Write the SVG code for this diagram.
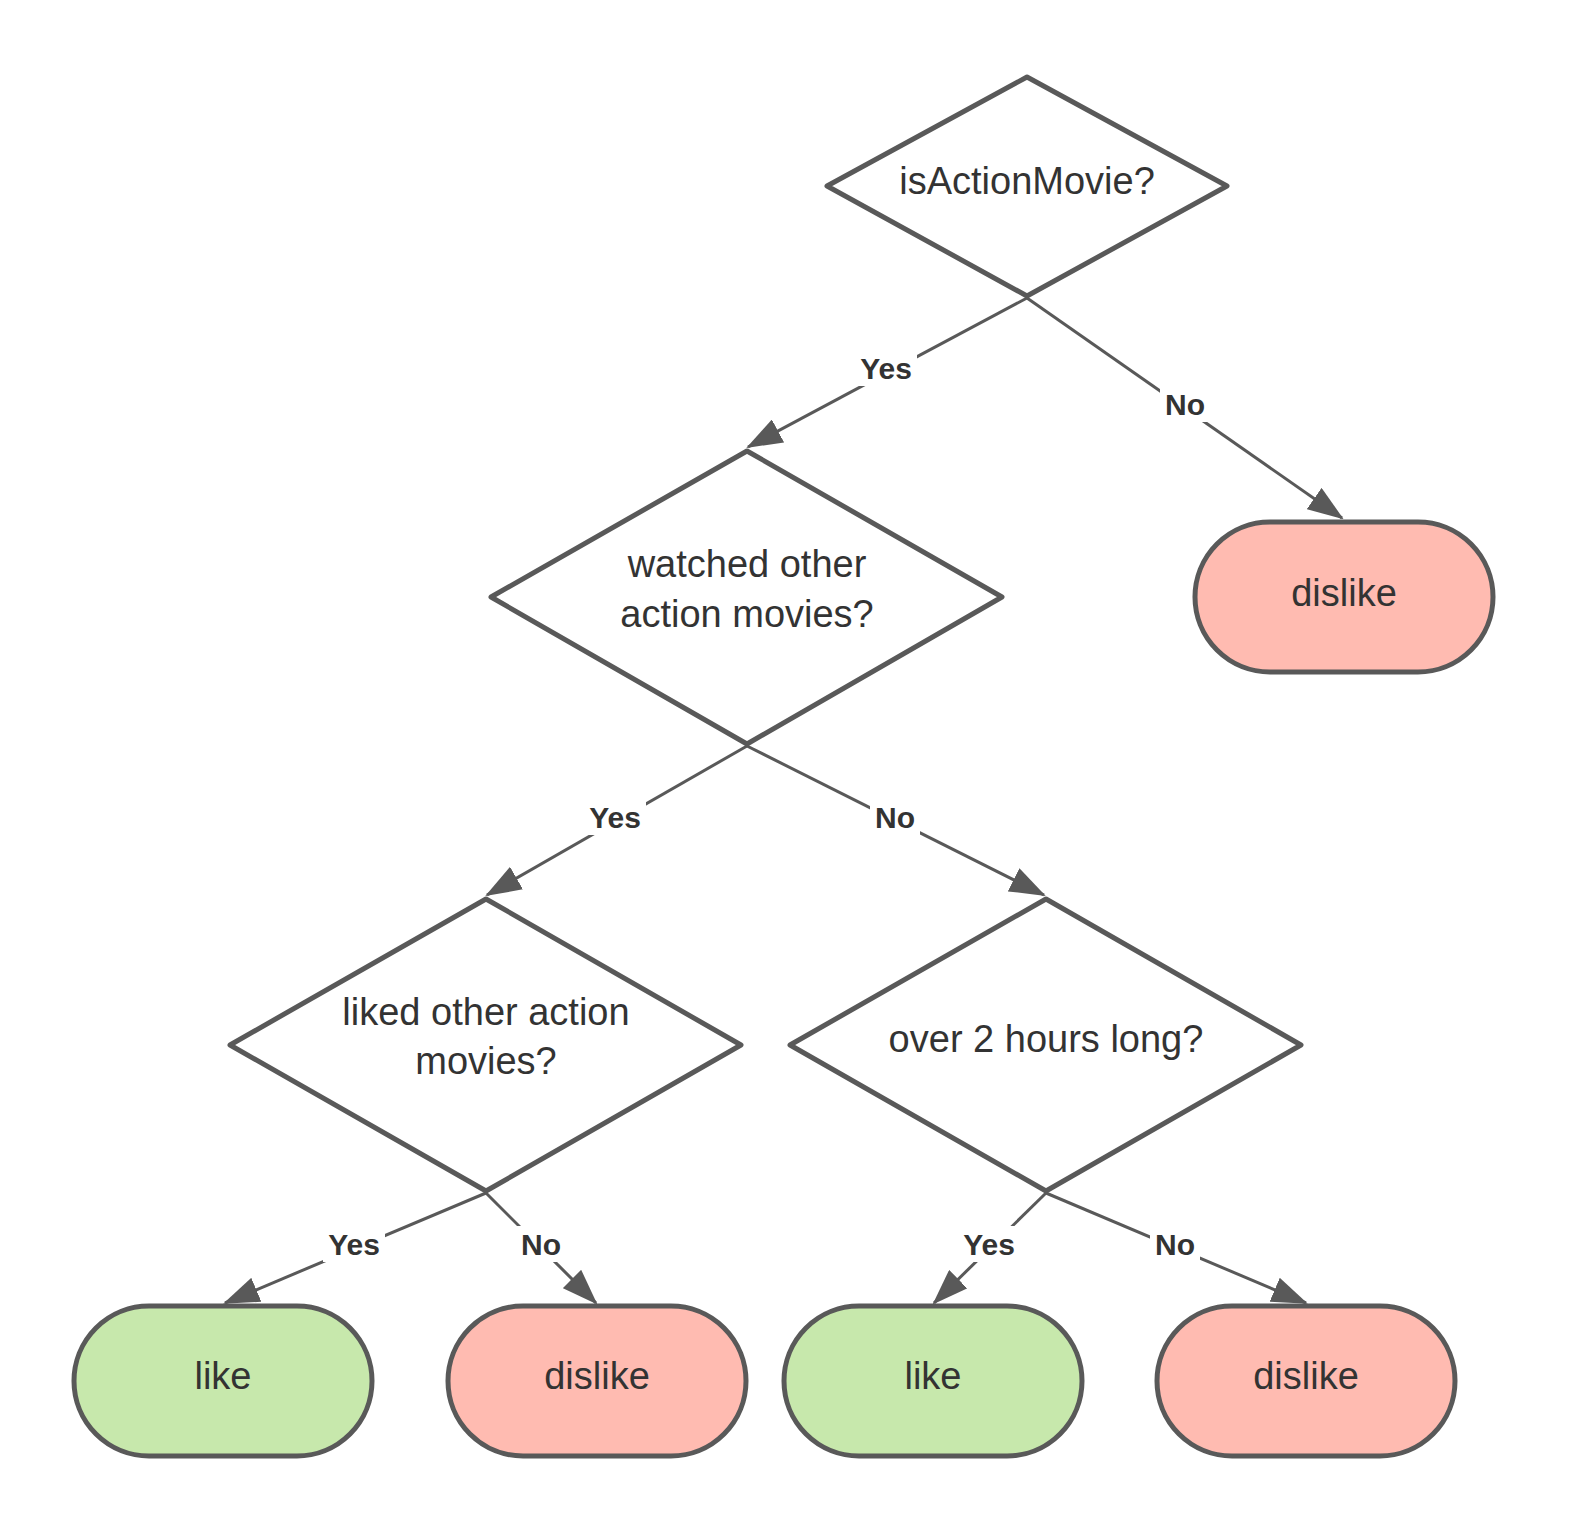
<svg xmlns="http://www.w3.org/2000/svg" width="1575" height="1538" viewBox="0 0 1575 1538">
<style>
.d{fill:#fff;stroke:#595959;stroke-width:5;stroke-linejoin:round}
.g{fill:#c7e8ac;stroke:#595959;stroke-width:5}
.r{fill:#ffbbb1;stroke:#595959;stroke-width:5}
.t{font-family:"Liberation Sans",Arial,sans-serif;font-size:38px;fill:#333;text-anchor:middle}
.l{font-family:"Liberation Sans",Arial,sans-serif;font-size:30px;font-weight:bold;fill:#333;text-anchor:middle}
.c{stroke:#595959;stroke-width:3;fill:none;marker-end:url(#a)}
.bg{fill:#fff}
</style>
<defs><marker id="a" markerWidth="12" markerHeight="10" refX="11" refY="5" orient="auto" markerUnits="userSpaceOnUse" viewBox="0 0 12 10"><path d="M0,0L12,5L0,10z" fill="#595959"/></marker>
<marker id="m" markerWidth="36" markerHeight="26" refX="34" refY="13" orient="auto" markerUnits="userSpaceOnUse" viewBox="0 0 36 26"><path d="M0,0L36,13L0,26z" fill="#595959"/></marker></defs>
<rect width="1575" height="1538" fill="#fff"/>
<g id="connectors">
<path d="M1027,298L748,447" stroke="#595959" stroke-width="3" marker-end="url(#m)"/>
<path d="M1027,298L1342,518" stroke="#595959" stroke-width="3" marker-end="url(#m)"/>
<path d="M747,746L487,895" stroke="#595959" stroke-width="3" marker-end="url(#m)"/>
<path d="M747,746L1044,895" stroke="#595959" stroke-width="3" marker-end="url(#m)"/>
<path d="M486,1193L225,1303" stroke="#595959" stroke-width="3" marker-end="url(#m)"/>
<path d="M486,1193L596,1303" stroke="#595959" stroke-width="3" marker-end="url(#m)"/>
<path d="M1046,1193L934,1303" stroke="#595959" stroke-width="3" marker-end="url(#m)"/>
<path d="M1046,1193L1306,1303" stroke="#595959" stroke-width="3" marker-end="url(#m)"/>
<rect class="bg" x="855" y="350" width="62" height="36"/><text class="l" x="886" y="379">Yes</text>
<rect class="bg" x="1160" y="386" width="50" height="36"/><text class="l" x="1185" y="415">No</text>
<rect class="bg" x="584" y="799" width="62" height="36"/><text class="l" x="615" y="828">Yes</text>
<rect class="bg" x="870" y="799" width="50" height="36"/><text class="l" x="895" y="828">No</text>
<rect class="bg" x="323" y="1226" width="62" height="36"/><text class="l" x="354" y="1255">Yes</text>
<rect class="bg" x="516" y="1226" width="50" height="36"/><text class="l" x="541" y="1255">No</text>
<rect class="bg" x="958" y="1226" width="62" height="36"/><text class="l" x="989" y="1255">Yes</text>
<rect class="bg" x="1150" y="1226" width="50" height="36"/><text class="l" x="1175" y="1255">No</text>
</g>
<g id="n1"><path class="d" d="M1027,77L1227,186L1027,296L827,186Z"/><text class="t" x="1027" y="194">isActionMovie?</text></g>
<g id="n2"><path class="d" d="M747,451L1002,597L747,744L491,597Z"/><text class="t" x="747" y="577">watched other</text><text class="t" x="747" y="627">action movies?</text></g>
<g id="n3"><rect class="r" x="1195" y="522" width="298" height="150" rx="75"/><text class="t" x="1344" y="606">dislike</text></g>
<g id="n4"><path class="d" d="M486,899L741,1045L486,1191L230,1045Z"/><text class="t" x="486" y="1025">liked other action</text><text class="t" x="486" y="1074">movies?</text></g>
<g id="n5"><path class="d" d="M1046,899L1301,1045L1046,1191L790,1045Z"/><text class="t" x="1046" y="1052">over 2 hours long?</text></g>
<g id="n6"><rect class="g" x="74" y="1306" width="298" height="150" rx="75"/><text class="t" x="223" y="1389">like</text></g>
<g id="n7"><rect class="r" x="448" y="1306" width="298" height="150" rx="75"/><text class="t" x="597" y="1389">dislike</text></g>
<g id="n8"><rect class="g" x="784" y="1306" width="298" height="150" rx="75"/><text class="t" x="933" y="1389">like</text></g>
<g id="n9"><rect class="r" x="1157" y="1306" width="298" height="150" rx="75"/><text class="t" x="1306" y="1389">dislike</text></g>
</svg>
